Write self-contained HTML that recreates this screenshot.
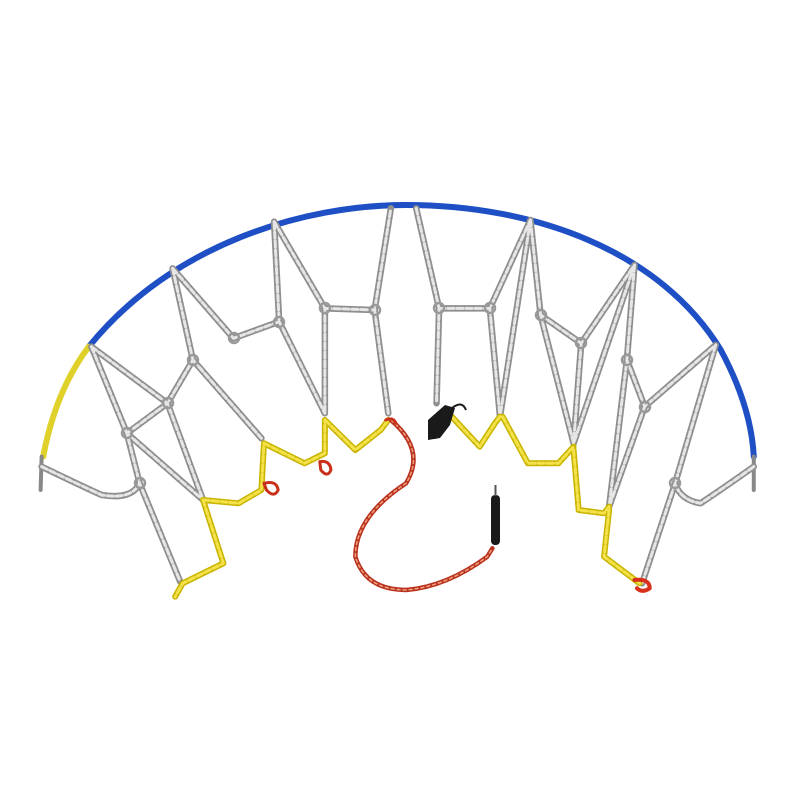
<!DOCTYPE html>
<html><head><meta charset="utf-8"><style>html,body{margin:0;padding:0;background:#fff}svg{display:block}</style></head>
<body>
<svg width="800" height="800" viewBox="0 0 800 800" xmlns="http://www.w3.org/2000/svg">
<g transform="translate(0,190) scale(0.5076,0.3333)" fill="none" stroke-linejoin="round" stroke-linecap="round">
 <path d="M175,470 C340,160 600,45 800,45 C1050,45 1300,180 1420,480 Q1480,650 1485,800" stroke="#1f4fc4" stroke-width="6" vector-effect="non-scaling-stroke"/>
 <path d="M175,470 Q110,600 85,800" stroke="#e0d12a" stroke-width="6" vector-effect="non-scaling-stroke"/>
 <path d="M82,800 L80,900 M1485,800 L1485,900" stroke="#888" stroke-width="4" vector-effect="non-scaling-stroke"/>
 <path d="M180,470 L250,730 L275,880 L355,1175
 M180,470 L330,640 L400,930
 M340,235 L380,510 L330,640 M380,510 L515,745
 M340,235 L460,445 L550,395 L540,95 M550,395 L640,670
 M540,95 L640,355 L640,670 M640,355 L738,360 L770,55 M738,360 L765,670
 M250,730 L400,930 M330,640 L250,730
 M82,830 Q150,880 200,915 Q260,930 275,880
 M820,55 L865,355 L860,640 M865,355 L965,355 L1045,90 M965,355 L985,680 M1045,90 L985,680
 M1065,375 L1145,460 L1250,225 M1145,460 L1130,760 M1065,375 L1130,760 M1045,90 L1065,375
 M1250,225 L1235,510 L1200,950 M1235,510 L1270,650 L1410,465 M1250,225 L1130,760
 M1410,465 L1330,880 L1265,1180 M1270,650 L1200,950
 M1485,830 Q1420,900 1380,940 Q1340,930 1330,880" stroke="#8f8f8f" stroke-width="6.5" vector-effect="non-scaling-stroke"/>
 <path d="M180,470 L250,730 L275,880 L355,1175
 M180,470 L330,640 L400,930
 M340,235 L380,510 L330,640 M380,510 L515,745
 M340,235 L460,445 L550,395 L540,95 M550,395 L640,670
 M540,95 L640,355 L640,670 M640,355 L738,360 L770,55 M738,360 L765,670
 M250,730 L400,930 M330,640 L250,730
 M82,830 Q150,880 200,915 Q260,930 275,880
 M820,55 L865,355 L860,640 M865,355 L965,355 L1045,90 M965,355 L985,680 M1045,90 L985,680
 M1065,375 L1145,460 L1250,225 M1145,460 L1130,760 M1065,375 L1130,760 M1045,90 L1065,375
 M1250,225 L1235,510 L1200,950 M1235,510 L1270,650 L1410,465 M1250,225 L1130,760
 M1410,465 L1330,880 L1265,1180 M1270,650 L1200,950
 M1485,830 Q1420,900 1380,940 Q1340,930 1330,880" stroke="#e6e6e6" stroke-width="3" stroke-dasharray="6 3" vector-effect="non-scaling-stroke"/>
 <path d="M400,930 L440,1120 L360,1180 L345,1220
 M400,930 L470,940 L515,900 L520,760
 M520,760 L600,820 L640,790 L640,690
 M640,690 L700,780 L750,720 L765,690
 M890,680 L945,770 L975,700 L985,680
 M990,680 L1040,820 L1100,820 L1130,770
 M1130,780 L1140,960 L1190,970 L1200,950
 M1200,960 L1190,1100 L1260,1180" stroke="#c9b400" stroke-width="6" vector-effect="non-scaling-stroke"/>
 <path d="M400,930 L440,1120 L360,1180 L345,1220
 M400,930 L470,940 L515,900 L520,760
 M520,760 L600,820 L640,790 L640,690
 M640,690 L700,780 L750,720 L765,690
 M890,680 L945,770 L975,700 L985,680
 M990,680 L1040,820 L1100,820 L1130,770
 M1130,780 L1140,960 L1190,970 L1200,950
 M1200,960 L1190,1100 L1260,1180" stroke="#f3e24a" stroke-width="3" stroke-dasharray="6 3" vector-effect="non-scaling-stroke"/>
 <path d="M770,690 Q840,780 800,880 Q700,980 700,1100 Q720,1200 800,1200 Q880,1190 960,1100 L970,1075" stroke="#b8321e" stroke-width="4.5" vector-effect="non-scaling-stroke"/>
 <path d="M770,690 Q840,780 800,880 Q700,980 700,1100 Q720,1200 800,1200 Q880,1190 960,1100 L970,1075" stroke="#f0a080" stroke-width="1.5" stroke-dasharray="3 3" vector-effect="non-scaling-stroke"/>
 <path d="M520,880 Q545,870 548,900 Q540,925 525,900 Z M630,815 Q650,810 652,840 Q645,865 632,840 Z M760,690 Q775,680 780,700" stroke="#c8301a" stroke-width="3" vector-effect="non-scaling-stroke"/>
 <path d="M1250,1170 Q1280,1165 1280,1195 Q1265,1210 1255,1195" stroke="#d8301a" stroke-width="4" vector-effect="non-scaling-stroke"/>
</g>
<rect x="491" y="495" width="9" height="50" rx="4" fill="#1a1a1a"/>
<line x1="495.5" y1="485" x2="495.5" y2="496" stroke="#555" stroke-width="2"/>
<g fill="#1a1a1a">
 <path d="M428,420 L445,405 L455,408 L450,425 L440,438 L428,440 Z"/>
 <circle cx="434" cy="433" r="6"/>
 <path d="M452,408 Q462,400 466,410" stroke="#1a1a1a" stroke-width="2" fill="none"/>
</g>
<g fill="none" stroke="#999" stroke-width="2.5">
 <circle cx="127" cy="433" r="5"/><circle cx="140" cy="483" r="5"/><circle cx="168" cy="403" r="5"/>
 <circle cx="193" cy="360" r="5"/><circle cx="234" cy="338" r="5"/><circle cx="279" cy="322" r="5"/>
 <circle cx="325" cy="308" r="5"/><circle cx="375" cy="310" r="5"/><circle cx="439" cy="308" r="5"/>
 <circle cx="490" cy="308" r="5"/><circle cx="541" cy="315" r="5"/><circle cx="581" cy="343" r="5"/>
 <circle cx="627" cy="360" r="5"/><circle cx="645" cy="407" r="5"/><circle cx="675" cy="483" r="5"/>
</g>
</svg>
</body></html>
